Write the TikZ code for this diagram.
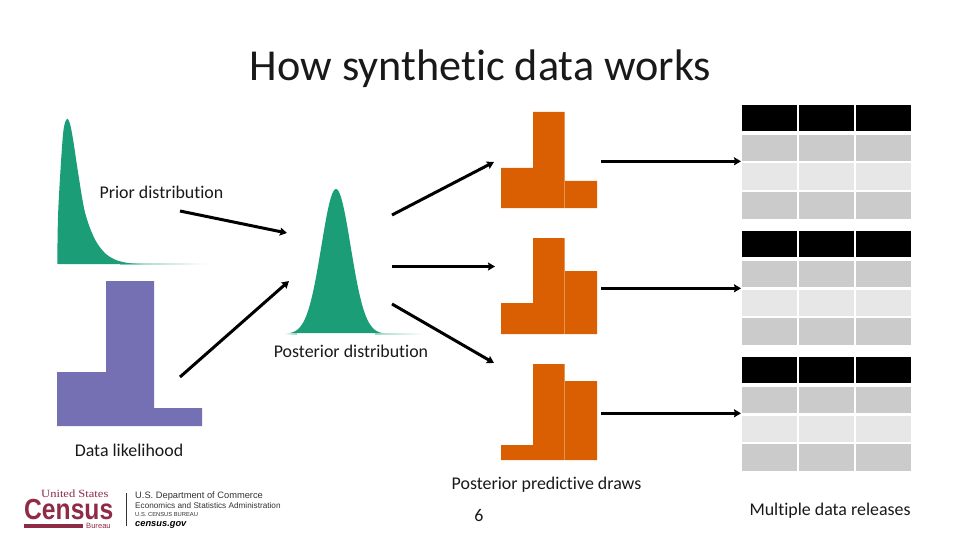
\documentclass[tikz,border=0pt]{standalone}
\usepackage{fontspec}
\setmainfont[Ligatures=NoCommon]{Carlito}
\newfontfamily\logosans{Liberation Sans}
\newfontfamily\logoserif{Liberation Serif}
\usetikzlibrary{arrows.meta}
\definecolor{synGreen}{HTML}{1B9E77}
\definecolor{synPurple}{HTML}{7570B3}
\definecolor{synOrange}{HTML}{D95F02}
\definecolor{synSep}{HTML}{E8924F}
\definecolor{rowMid}{HTML}{CBCBCB}
\definecolor{rowLight}{HTML}{E7E7E7}
\definecolor{censusRed}{HTML}{8E2B47}
\definecolor{logoInk}{HTML}{333333}
\tikzset{
  flow/.style={draw=black,line width=3pt,-{Stealth[length=7pt,width=8pt,inset=1pt]}},
  lbl/.style={font=\fontsize{17.9}{20}\selectfont,inner sep=0pt,anchor=base,text=black!90},
  logoline/.style={inner sep=0pt,anchor=base west,text=logoInk},
}
\begin{document}
\begin{tikzpicture}[x=1pt,y=-1pt]
\useasboundingbox (0,0) rectangle (960,540);
\fill[white] (0,0) rectangle (960,540);

% title
\node[inner sep=0pt,anchor=base,text=black!90] (title) at (480.5,81) {\fontsize{44.2}{50}\selectfont How synthetic data works};

% prior distribution
\shade[left color=synGreen!50,right color=white] (120,263.6) rectangle (206,264.3);
\fill[synGreen] plot[smooth,tension=0.55] coordinates {(57.3,264) (58,217) (60.5,170) (63.5,130) (67,119) (70,124) (73,139) (78,172) (84,208) (90,228) (97,243) (106,254) (116,260) (128,263) (140,264)} -- cycle;

% posterior distribution
\shade[left color=synGreen!40,right color=white] (375,333.7) rectangle (424,334.3);
\shade[right color=synGreen!40,left color=white] (284,333.7) rectangle (297,334.3);
\fill[synGreen] plot[domain=289:383,samples=95,smooth] (\x,{334-145*exp(-(\x-336)*(\x-336)/(2*14.6*14.6))}) -- cycle;

% data likelihood
\fill[synPurple] (57,372) -- (106,372) -- (106,281) -- (154,281) -- (154,408) -- (202,408) -- (202,426) -- (57,426) -- cycle;

% posterior predictive draws
\foreach \t/\l/\r/\b in {112/168/181/208, 238/303/271/334, 364/445/381/460}{
  \fill[synOrange] (501,\l) -- (533,\l) -- (533,\t) -- (564.5,\t) -- (564.5,\r) -- (597,\r) -- (597,\b) -- (501,\b) -- cycle;
  \draw[synSep,line width=0.5pt] (564.5,\r) -- (564.5,\b);
}

% tables
\foreach \o in {0,126,252}{
  \foreach \x in {742,799,856}{
    \fill[black] (\x,105+\o) rectangle ++(55,26);
    \fill[rowMid] (\x,135+\o) rectangle ++(55,26);
    \fill[rowLight] (\x,163.5+\o) rectangle ++(55,26.5);
    \fill[rowMid] (\x,192+\o) rectangle ++(55,27);
  }
}

% connector ends
\coordinate (priorOut) at (180,211);
\coordinate (postInA) at (287,233);
\coordinate (likeOut) at (180,377);
\coordinate (postInB) at (289,281);
\coordinate (postOutA) at (392,215);
\coordinate (drawInA) at (494,162);
\coordinate (postOutB) at (392,266.5);
\coordinate (drawInB) at (495,266.5);
\coordinate (postOutC) at (392,304);
\coordinate (drawInC) at (494,363);
\coordinate (drawOutA) at (601,161.3);
\coordinate (tabInA) at (741,161.3);
\coordinate (drawOutB) at (601,288.3);
\coordinate (tabInB) at (741,288.3);
\coordinate (drawOutC) at (601,413.3);
\coordinate (tabInC) at (741,413.3);
\draw[flow] (priorOut) -- (postInA);
\draw[flow] (likeOut) -- (postInB);
\draw[flow] (postOutA) -- (drawInA);
\draw[flow] (postOutB) -- (drawInB);
\draw[flow] (postOutC) -- (drawInC);
\draw[flow] (drawOutA) -- (tabInA);
\draw[flow] (drawOutB) -- (tabInB);
\draw[flow] (drawOutC) -- (tabInC);

% labels
\node[lbl] (lprior) at (161.5,198) {Prior distribution};
\node[lbl] (lpost) at (351,357) {Posterior distribution};
\node[lbl] (llike) at (129,456) {Data likelihood};
\node[lbl] (ldraws) at (546.5,489) {Posterior predictive draws};
\node[lbl] (lpage) at (479,521) {6};
\node[lbl] (lrel) at (830,515) {Multiple data releases};

% logo
\node[inner sep=0pt,anchor=base west,text=censusRed] (lgA) at (41,497.5) {\scalebox{1.14}[1]{\logoserif\fontsize{11}{11}\selectfont United States}};
\node[inner sep=0pt,anchor=base west,text=censusRed] (lgB) at (24,519) {\scalebox{0.85}[1]{\logosans\bfseries\fontsize{29}{29}\selectfont Census}};
\fill[censusRed] (24,524) rectangle (83,528);
\node[inner sep=0pt,anchor=base west,text=censusRed] (lgC) at (86,528) {\logosans\fontsize{7.6}{8}\selectfont Bureau};
\draw[logoInk,line width=0.8pt] (126,493) -- (126,526);
\node[logoline] (lgD) at (135,498.5) {\logosans\fontsize{9.3}{10}\selectfont U.S. Department of Commerce};
\node[logoline] (lgE) at (135,508) {\logosans\fontsize{8.2}{10}\selectfont Economics and Statistics Administration};
\node[logoline] (lgF) at (135,516.7) {\logosans\fontsize{5.8}{7}\selectfont U.S. CENSUS BUREAU};
\node[logoline,text=black] (lgG) at (135,526.5) {\logosans\bfseries\itshape\fontsize{9.3}{10}\selectfont census.gov};
\end{tikzpicture}
\end{document}
